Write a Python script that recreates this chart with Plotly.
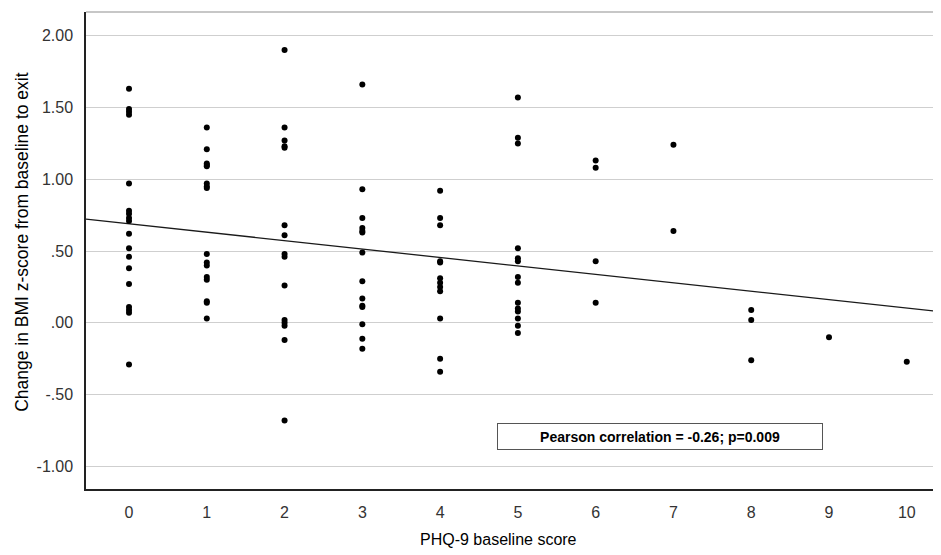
import numpy as np
import plotly.graph_objects as go

# PHQ-9 baseline score (x) and change in BMI z-score (y)
phq_scores = [0, 1, 2, 3, 4, 5, 6, 7, 8, 9, 10]
bmi_change_by_score = {
    0: [1.63, 1.49, 1.47, 1.45, 0.97, 0.78, 0.76, 0.73, 0.71, 0.62, 0.52, 0.46,
        0.38, 0.27, 0.11, 0.09, 0.07, -0.29],
    1: [1.36, 1.21, 1.11, 1.10, 1.09, 0.97, 0.95, 0.94, 0.48, 0.42, 0.40, 0.32,
        0.30, 0.15, 0.14, 0.03],
    2: [1.90, 1.36, 1.27, 1.23, 1.22, 0.68, 0.61, 0.48, 0.46, 0.26, 0.02, 0.00,
        -0.02, -0.12, -0.68],
    3: [1.66, 0.93, 0.73, 0.66, 0.64, 0.63, 0.49, 0.29, 0.17, 0.12, 0.11, -0.01,
        -0.11, -0.18],
    4: [0.92, 0.73, 0.68, 0.43, 0.42, 0.31, 0.28, 0.25, 0.22, 0.03, -0.25, -0.34],
    5: [1.57, 1.29, 1.25, 0.52, 0.45, 0.43, 0.32, 0.28, 0.14, 0.10, 0.08, 0.03,
        -0.02, -0.07],
    6: [1.13, 1.08, 0.43, 0.14],
    7: [1.24, 0.64],
    8: [0.09, 0.02, -0.26],
    9: [-0.10],
    10: [-0.27],
}
y_tick_vals = [2.0, 1.5, 1.0, 0.5, 0.0, -0.5, -1.0]
y_tick_text = ["2.00", "1.50", "1.00", ".50", ".00", "-.50", "-1.00"]
x_tick_vals = phq_scores
x_tick_text = [str(v) for v in phq_scores]
annotation_text = "Pearson correlation = -0.26; p=0.009"

xs, ys = [], []
for s in phq_scores:
    for v in bmi_change_by_score[s]:
        xs.append(s)
        ys.append(v)
xs = np.array(xs, dtype=float)
ys = np.array(ys, dtype=float)

x_min, x_max = -0.553, 10.44
y_min, y_max = -1.157, 2.165

slope, intercept = np.polyfit(xs, ys, 1)
line_x = np.array([x_min, x_max])
line_y = intercept + slope * line_x

fig = go.Figure()
fig.add_trace(go.Scatter(
    x=line_x, y=line_y, mode="lines",
    line=dict(color="#1a1a1a", width=1.3), hoverinfo="skip", showlegend=False))
fig.add_trace(go.Scatter(
    x=xs, y=ys, mode="markers",
    marker=dict(color="black", size=6, line=dict(width=0)), showlegend=False))

tick_font = dict(family="Liberation Sans, Arial", size=16, color="#333333")
fig.update_layout(
    width=933, height=547,
    margin=dict(l=78, r=0, t=4, b=66),
    paper_bgcolor="white", plot_bgcolor="white",
    xaxis=dict(range=[x_min, x_max], tickvals=x_tick_vals, ticktext=x_tick_text,
               showgrid=False, zeroline=False, showline=True, linecolor="#222222",
               linewidth=1.5, ticks="", tickfont=tick_font, ticklabelstandoff=8),
    yaxis=dict(range=[y_min, y_max], tickvals=y_tick_vals, ticktext=y_tick_text,
               showgrid=True, gridcolor="#cfcfcf", gridwidth=1, zeroline=False,
               showline=True, linecolor="#222222", linewidth=1.5, ticks="",
               tickfont=tick_font, ticklabelstandoff=8),
    shapes=[dict(type="line", xref="paper", yref="paper", x0=0, x1=1, y0=1, y1=1,
                 line=dict(color="#b5b5b5", width=1.5))],
    annotations=[
        dict(text=annotation_text, x=6.825, y=-0.791, xref="x", yref="y",
             showarrow=False, font=dict(family="Liberation Sans, Arial", size=14,
                                        color="black", weight="bold"),
             bordercolor="#555555", borderwidth=1, borderpad=4, width=316, height=17,
             bgcolor="white"),
        dict(text="Change in BMI z-score from baseline to exit", textangle=-90,
             xref="paper", yref="paper", x=-0.0749, y=0.518, xanchor="center",
             yanchor="middle", showarrow=False,
             font=dict(family="Liberation Sans, Arial", size=17.5, color="black")),
        dict(text="PHQ-9 baseline score", xref="paper", yref="paper",
             x=0.482, y=-0.105, xanchor="center", yanchor="middle", showarrow=False,
             font=dict(family="Liberation Sans, Arial", size=16, color="black")),
    ],
)

fig.write_html("out.html")
